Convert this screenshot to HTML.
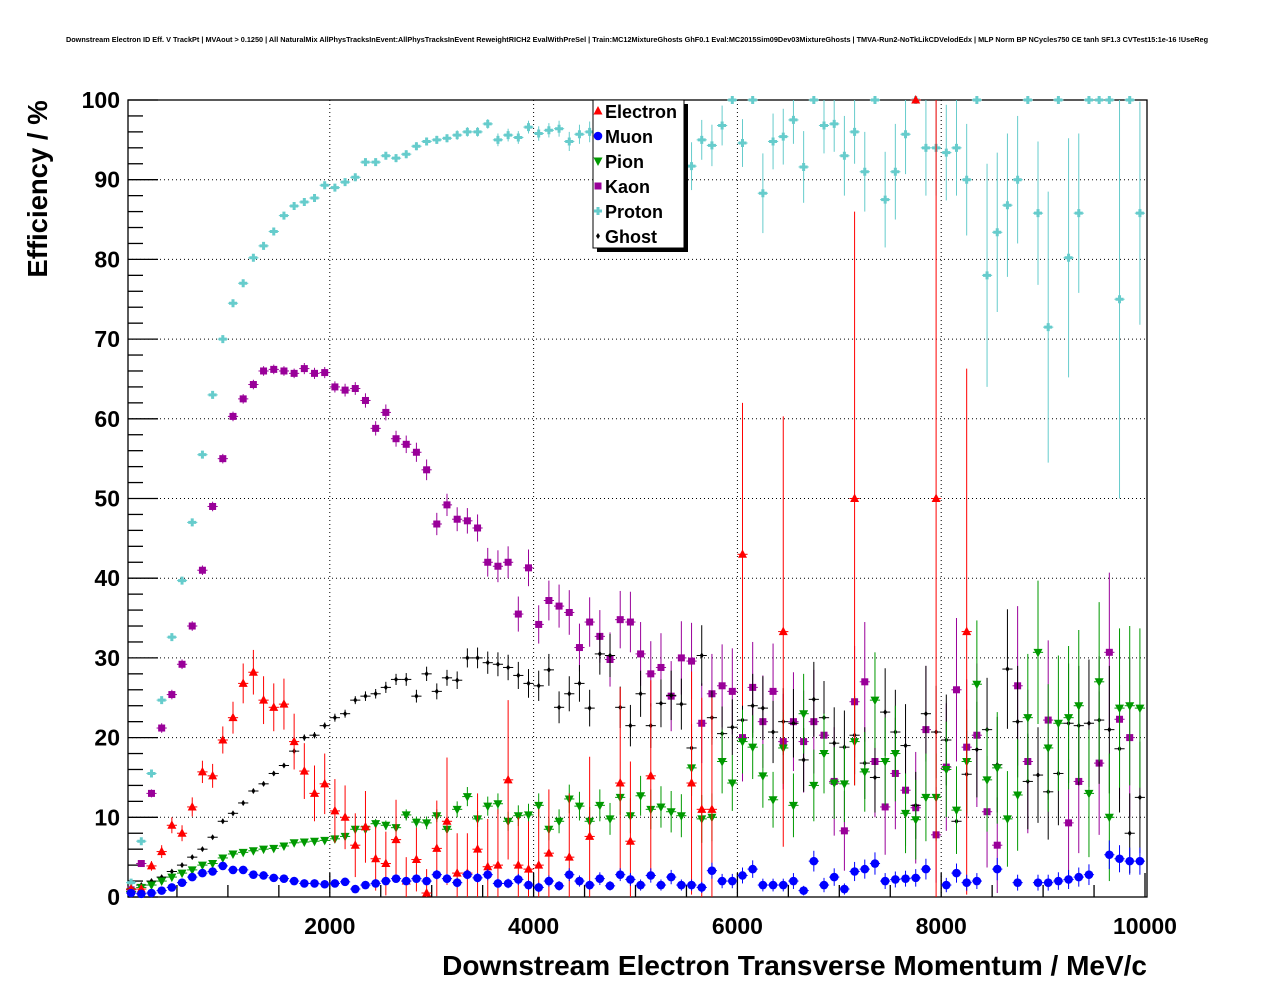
<!DOCTYPE html>
<html><head><meta charset="utf-8"><style>
body{margin:0;background:#fff;}
svg{display:block;font-family:"Liberation Sans",Arial,sans-serif;}
</style></head><body>
<svg id="chart" width="1276" height="996" viewBox="0 0 1276 996" xmlns="http://www.w3.org/2000/svg">
<rect x="0" y="0" width="1276" height="996" fill="#fff"/>
<text x="637" y="42" text-anchor="middle" font-size="7.3" font-weight="bold">Downstream Electron ID Eff. V TrackPt | MVAout &gt; 0.1250 | All NaturalMix AllPhysTracksInEvent:AllPhysTracksInEvent ReweightRICH2 EvalWithPreSel | Train:MC12MixtureGhosts GhF0.1 Eval:MC2015Sim09Dev03MixtureGhosts | TMVA-Run2-NoTkLikCDVelodEdx | MLP Norm BP NCycles750 CE tanh SF1.3 CVTest15:1e-16 !UseReg</text>
<g id="grid"></g>
<g id="axes"></g>
<g id="series"></g>
<text transform="translate(47,189) rotate(-90)" text-anchor="middle" font-size="27.5" font-weight="bold">Efficiency / %</text>
<text x="1147" y="975" text-anchor="end" font-size="28" font-weight="bold">Downstream Electron Transverse Momentum / MeV/c</text>
<g id="legend"></g>
</svg>
<script>
const xTicks=[2000,4000,6000,8000,10000];
const yTicks=[0,10,20,30,40,50,60,70,80,90,100];
const binCenters=[];for(let i=0;i<100;i++)binCenters.push(50+100*i);
const seriesNames=["Electron","Muon","Pion","Kaon","Proton","Ghost"];
const electron=[1,1,3.9,5.7,9,8,11.3,15.7,15.2,19.7,22.5,26.8,28.2,24.7,23.8,24.2,19.5,15.8,13,14.2,10.8,10,6.5,8.8,4.8,4.2,7.2,2,4.7,0.5,6.1,9.5,3,3,6,3.8,4,14.7,4,3.5,4,5.5,null,5,null,7.6,null,null,14.3,7,null,15.2,null,null,null,14.3,11,11,null,null,43,null,null,null,33.3,null,null,null,null,null,null,50,null,null,null,null,null,100,null,50,null,null,33.3,null,null,null,null,null,null,null,null,null,null,null,null,null,null,null,null,null];
const electronErr=[0.3,0.4,0.6,0.8,1,1,1.2,1.4,1.5,1.7,2,2.5,2.8,3,3,3.2,3.5,3.5,3.5,3.8,4,4,4,4.5,4,4,5,3,4,3,6,8,5,5,7,6,7,10,6,6,7,8,0,8,0,10,0,0,12,10,0,12,0,0,0,14,14,14,0,0,19,0,0,0,27,0,0,0,0,0,0,36,0,0,0,0,0,0,0,50,0,0,33,0,0,0,0,0,0,0,0,0,0,0,0,0,0,0,0,0];
const muon=[0.5,0.4,0.5,0.8,1.2,1.8,2.5,3,3.2,3.9,3.4,3.4,2.8,2.7,2.4,2.3,2,1.7,1.7,1.6,1.7,1.9,1,1.5,1.7,2,2.3,2,2.3,2,2.8,2.3,1.8,2.8,2.4,2.8,1.7,1.7,2.2,1.5,1.2,2,1.4,2.8,2,1.5,2.3,1.4,2.8,2.2,1.5,2.7,1.5,2.5,1.5,1.5,1.2,3.3,2,2,2.7,3.5,1.5,1.5,1.5,2,0.8,4.5,1.5,2.5,1,3.2,3.5,4.2,2,2.2,2.3,2.4,3.5,null,1.5,3,1.8,2,null,3.5,null,1.8,null,1.8,1.8,2,2.2,2.5,2.8,null,5.3,4.8,4.5,4.5];
const muonErr=[0.2,0.2,0.2,0.3,0.3,0.3,0.3,0.3,0.3,0.4,0.4,0.4,0.4,0.4,0.4,0.4,0.4,0.4,0.4,0.4,0.4,0.4,0.4,0.4,0.4,0.5,0.5,0.5,0.5,0.5,0.6,0.6,0.6,0.6,0.6,0.7,0.6,0.6,0.7,0.6,0.6,0.7,0.6,0.8,0.7,0.6,0.8,0.6,0.8,0.8,0.7,0.9,0.7,0.9,0.7,0.7,0.7,1,0.9,0.9,1,1.1,0.8,0.8,0.8,1,0.6,1.3,0.9,1.1,0.7,1.2,1.2,1.4,1,1,1,1.1,1.3,0,0.9,1.2,1,1,0,1.4,0,1,0,1,1,1.1,1.2,1.2,1.3,0,1.8,1.7,1.7,1.7];
const pion=[0.7,1.2,1.5,2,2.5,3,3.4,4,4.2,4.9,5.4,5.6,5.8,6,6.1,6.4,6.8,6.9,7,7.1,7.3,7.6,8.5,8.5,9.2,9,8.7,10.3,9.4,9.3,10.2,8.5,11,12.6,9.8,11.4,11.7,9.5,10.2,10.3,11.5,8.5,9.5,12.3,11.4,9.5,11.5,9.8,12.5,10.2,12.7,11,11.3,10.7,10.2,16.2,9.8,10,17,14.3,19.5,18.8,15.2,12.2,18.7,11.5,23,14,18,14.3,14.2,19.5,15.7,24.7,17,18,10.5,9.7,12.5,12.5,16,10.9,17,26.7,14.7,16.2,9.8,12.8,22.5,30.7,18.7,21.8,22.5,24,13,27,10,23.7,24,23.7];
const pionErr=[0.1,0.1,0.1,0.1,0.2,0.2,0.2,0.2,0.2,0.2,0.3,0.3,0.3,0.3,0.3,0.3,0.4,0.4,0.4,0.4,0.5,0.5,0.5,0.6,0.6,0.6,0.7,0.7,0.7,0.8,0.8,0.8,1,1.2,1,1.2,1.3,1.2,1.3,1.4,1.5,1.4,1.5,1.8,1.8,1.8,2,2,2.2,2.2,2.5,2.5,2.6,2.6,2.7,3.5,3,3,4,3.5,4,4,4,3.5,4.5,4,5,4.5,5,4.5,4.8,5.5,5,6,5.5,6,5,5,5.5,5.5,6,5.5,6.5,8,6.5,7,6,7,8,9,8,8.5,9,9.5,8,10,8,10,10,10];
const kaon=[0.9,4.2,13,21.2,25.4,29.2,34,41,49,55,60.3,62.5,64.3,66,66.2,66,65.7,66.3,65.7,65.8,64,63.6,63.8,62.3,58.8,60.8,57.5,56.8,55.8,53.6,46.8,49.2,47.4,47.2,46.3,42,41.5,42,35.5,41.3,34.2,37.2,36.5,35.7,31.3,34.5,32.7,29.8,34.8,34.5,30.5,28,28.8,25.2,30,29.6,21.8,25.5,26.5,25.8,20,26.3,22,25.8,19.5,22,19.5,22,20.3,14.5,8.3,24.5,27,17,11.3,15.5,13.4,11.2,21,7.8,16.3,26,18.8,20.3,10.7,6.5,null,26.5,17,null,22.2,null,9.3,14.5,null,16.8,30.7,22.3,20,null];
const kaonErr=[0.3,0.4,0.5,0.6,0.6,0.6,0.6,0.6,0.6,0.6,0.6,0.6,0.6,0.6,0.6,0.6,0.6,0.7,0.7,0.7,0.7,0.8,0.8,0.9,0.9,1,1,1.1,1.2,1.3,1.4,1.4,1.5,1.6,1.7,1.8,2,2,2.2,2.3,2.4,2.5,2.7,2.8,3,3.1,3.3,3.4,3.6,3.8,4,4.1,4.3,4.4,4.6,4.8,5,5,5.2,5.4,5.5,5.7,5.8,6,6,6.2,6.4,6.5,6.7,6.8,5,7,7.5,7,6,7,7,7,8,6,8,9,8.5,9,7,6,0,10,9,0,10,0,8,9,0,9,10,10,10,0];
const proton=[1.8,7,15.5,24.7,32.6,39.7,47,55.5,63,70,74.5,77,80.2,81.7,83.5,85.5,86.7,87.2,87.7,89.3,89,89.7,90.3,92.2,92.2,93,92.7,93.2,94.2,94.8,95,95.2,95.6,96,96,97,95,95.6,95.3,96.6,95.8,96.2,96.4,94.8,95.7,96,96.2,96,95.5,96,95.8,96.3,96,95.5,95,91.7,95,94.3,96.8,100,94.6,100,88.3,94.8,95.4,97.5,91.6,100,96.8,97,93,96,91,100,87.5,91,95.7,100,94,94,93.4,94,90,100,78,83.4,86.8,90,100,85.8,71.5,100,80.2,85.8,100,100,100,75,100,85.8];
const protonErr=[0.3,0.4,0.4,0.4,0.4,0.4,0.4,0.4,0.4,0.4,0.4,0.4,0.4,0.4,0.4,0.4,0.4,0.4,0.4,0.4,0.4,0.4,0.4,0.4,0.4,0.4,0.5,0.5,0.5,0.5,0.5,0.5,0.6,0.6,0.6,0.6,0.8,0.8,0.8,0.8,0.9,0.9,1,1.2,1.2,1.3,1.4,1.5,1.6,1.7,1.8,1.9,2,2.1,2.2,3,2.5,2.6,2.5,0,3,0,5,3.5,3.5,3,4.5,0,3.5,3.5,5,4,5,0,6,6,5,0,6,6,6,6,7,0,14,10,9,8,0,9,17,0,15,10,0,0,0,25,0,14];
const ghost=[0.5,1.5,2,2.5,3.2,4,5,6,7.5,9.5,10.5,11.8,13.3,14.2,15.5,16.5,18.3,20,20.3,21.5,22.5,23,24.7,25.2,25.5,26.3,27.3,27.3,25.2,28,25.8,27.5,27.2,30,30,29.4,29.2,28.8,27.8,26.8,26.5,28.5,23.8,25.5,26.8,23.7,30.5,30.3,23.8,21.5,25.5,21.5,24.3,25.3,24.2,18.7,30.3,22.5,20.5,21.3,22.2,24,23.7,20.7,22,21.8,17.2,24.8,22.5,19.3,18.8,20.3,16.8,15,23.2,20.7,19,11.5,23,20.7,19.7,9.5,15.4,18.5,21,16.6,28.6,22,14.5,15.3,13.2,15.5,21.8,21.5,21.8,22.2,21,18.6,8,12.5];
const ghostErr=[0.1,0.2,0.2,0.2,0.2,0.2,0.2,0.2,0.2,0.3,0.3,0.3,0.3,0.3,0.3,0.3,0.4,0.4,0.4,0.4,0.5,0.5,0.5,0.6,0.6,0.7,0.7,0.8,0.8,0.9,1,1,1.1,1.2,1.3,1.4,1.5,1.6,1.7,1.8,1.9,2,2,2.2,2.3,2.3,2.6,2.7,2.6,2.6,2.9,2.8,3,3.1,3.2,3,3.8,3.4,3.4,3.5,3.7,4,4,3.9,4.2,4.3,4,4.7,4.6,4.5,4.6,4.9,4.5,4.4,5.5,5.3,5.2,4.2,6,5.8,5.7,4,5.5,6,6.5,6,7.5,7,6,6,6,6.5,7.5,7.5,8,8,8,8,5,7];

const X0=126,XS=1019/10000,Y0=897,YS=797/100;
const FL=128,FR=1147,FT=100,FB=897;
function xp(v){return X0+v*XS;}
function yp(v){return Y0-v*YS;}
const NS="http://www.w3.org/2000/svg";
function mk(tag,parent,attrs){const e=document.createElementNS(NS,tag);for(const k in attrs)e.setAttribute(k,attrs[k]);parent.appendChild(e);return e;}
const grid=document.getElementById('grid'),axes=document.getElementById('axes'),ser=document.getElementById('series'),leg=document.getElementById('legend');

xTicks.forEach(t=>{if(t<10000){const l=mk('line',grid,{x1:xp(t),x2:xp(t),y1:FT,y2:FB,stroke:'#000','stroke-width':1,'stroke-dasharray':'1,3'});

}});
yTicks.forEach(t=>{if(t>0&&t<100){const l=mk('line',grid,{x1:FL,x2:FR,y1:yp(t),y2:yp(t),stroke:'#000','stroke-width':1,'stroke-dasharray':'1,3'});

}});

const fr=mk('rect',axes,{x:FL,y:FT,width:FR-FL,height:FB-FT,fill:'none',stroke:'#000','stroke-width':1.3});


for(let v=0;v<=100;v+=2){const major=v%10===0;mk('line',axes,{x1:FL,x2:FL+(major?30:15),y1:yp(v),y2:yp(v),stroke:'#000','stroke-width':1.3});}
yTicks.forEach(t=>{const tx=mk('text',axes,{x:120,y:yp(t)+8,'text-anchor':'end','font-size':23,'font-weight':'bold'});tx.textContent=t;

});
for(let v=500;v<=10000;v+=500){const major=v%2000===0;const x=xp(v);if(x>FR)continue;mk('line',axes,{x1:x,x2:x,y1:FB,y2:FB-(major?24:12),stroke:'#000','stroke-width':1.3});}
xTicks.forEach(t=>{const tx=mk('text',axes,{x:xp(t),y:934,'text-anchor':'middle','font-size':23,'font-weight':'bold'});tx.textContent=t;

});

function marker(g,type,x,y,c){
 if(type==='tri')mk('polygon',g,{points:`${x},${y-5} ${x-4.5},${y+3.5} ${x+4.5},${y+3.5}`,fill:c});
 else if(type==='circ')mk('circle',g,{cx:x,cy:y,r:4.3,fill:c});
 else if(type==='tdown')mk('polygon',g,{points:`${x-4.5},${y-3.5} ${x+4.5},${y-3.5} ${x},${y+5}`,fill:c});
 else if(type==='sq')mk('rect',g,{x:x-3.5,y:y-3.5,width:7,height:7,fill:c});
 else if(type==='cross')mk('path',g,{d:`M${x-4},${y-1.5}h8v3h-8zM${x-1.5},${y-4}h3v8h-3z`,fill:c});
 else if(type==='dia')mk('polygon',g,{points:`${x},${y-3} ${x+2},${y} ${x},${y+3} ${x-2},${y}`,fill:c});
}
const defs=[
 {name:'electron',vals:electron,errs:electronErr,c:'#ff0000',m:'tri'},
 {name:'muon',vals:muon,errs:muonErr,c:'#0000ff',m:'circ'},
 {name:'pion',vals:pion,errs:pionErr,c:'#009900',m:'tdown'},
 {name:'kaon',vals:kaon,errs:kaonErr,c:'#990099',m:'sq'},
 {name:'proton',vals:proton,errs:protonErr,c:'#66cccc',m:'cross'},
 {name:'ghost',vals:ghost,errs:ghostErr,c:'#000000',m:'dia'}];
[4,3,5,2,0,1].forEach(si=>{const d=defs[si];
 const g=mk('g',ser,{});
 
 
 d.vals.forEach((v,i)=>{if(v===null)return;
  const x=xp(binCenters[i]),y=yp(v);
  const e=d.errs[i]||0;
  const top=Math.max(FT,yp(Math.min(100,v+e))),bot=Math.min(FB,yp(Math.max(0,v-e)));
  mk('line',g,{x1:xp(binCenters[i]-50),x2:xp(binCenters[i]+50),y1:y,y2:y,stroke:d.c,'stroke-width':1});
  if(e>0)mk('line',g,{x1:x,x2:x,y1:top,y2:bot,stroke:d.c,'stroke-width':1});
  marker(g,d.m,x,y,d.c);
 });
});

mk('rect',leg,{x:597,y:104,width:91,height:148,fill:'#000'});
const lb=mk('rect',leg,{x:593,y:100,width:91,height:148,fill:'#fff',stroke:'#000','stroke-width':1});


const legendColors=['#ff0000','#0000ff','#009900','#990099','#66cccc','#000000'];
const legendMarkers=['tri','circ','tdown','sq','cross','dia'];
seriesNames.forEach((n,i)=>{const y=111+i*25;
 const g=mk('g',leg,{});
 
 
 marker(g,legendMarkers[i],598,y,legendColors[i]);
 const t=mk('text',g,{x:605,y:y+7,'font-size':18,'font-weight':'bold'});t.textContent=n;
});
</script>
</body></html>
